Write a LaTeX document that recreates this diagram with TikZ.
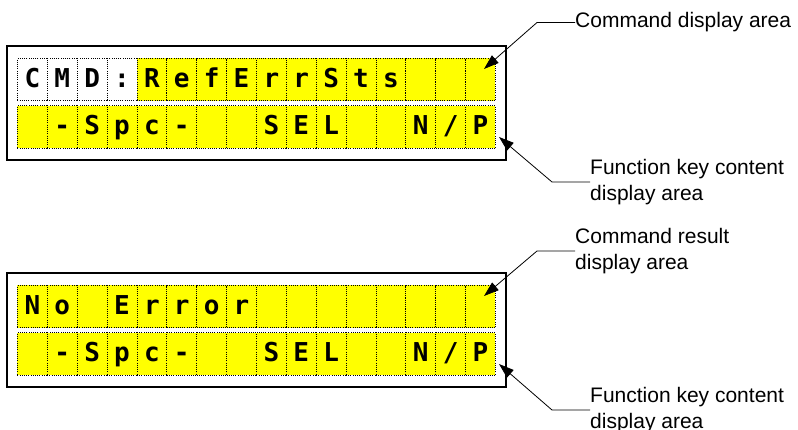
\documentclass[tikz,border=0pt]{standalone}
\usepackage{fontspec}
\setmainfont{Liberation Sans}
\newfontfamily\lcdfont{DejaVu Sans Mono}
\usetikzlibrary{arrows.meta}
\definecolor{lcd}{RGB}{255,255,0}

\begin{document}
\begin{tikzpicture}[x=1pt,y=-1pt,
  cell/.style={draw,line width=.8pt,dash pattern=on .9pt off 1.3pt,anchor=north west,inner sep=0pt,
    minimum width=29.875pt,minimum height=42.5pt,text height=29pt,text depth=13.5pt,
    font=\fontsize{26}{26}\selectfont\lcdfont\bfseries},
  panel/.style={draw,line width=1.6pt},
  callout/.style={anchor=west,inner sep=0pt,align=left,font=\fontsize{21}{26}\selectfont},
  leader/.style={draw,line width=.8pt,-{Triangle[length=15pt,width=10pt]}}]
\useasboundingbox (0,0) rectangle (798,430);

% upper screen: command entry
\draw[panel] (7,46) rectangle (506,160);
\foreach \s [count=\i from 0] in {C,M,D,:,R,e,f,E,r,r,S,t,s,{},{},{}} {
  \ifnum\i<4 \def\bg{white}\else\def\bg{lcd}\fi
  \node[cell,fill=\bg] (cmd\i) at (17+29.875*\i,58) {\s};
}
\foreach \s [count=\i from 0] in {{},-,S,p,c,-,{},{},S,E,L,{},{},N,/,P}
  \node[cell,fill=lcd] (fkey\i) at (17+29.875*\i,105.5) {\s};

% lower screen: command result
\draw[panel] (7,273) rectangle (506,387);
\foreach \s [count=\i from 0] in {N,o,{},E,r,r,o,r,{},{},{},{},{},{},{},{}}
  \node[cell,fill=lcd] (res\i) at (17+29.875*\i,285) {\s};
\foreach \s [count=\i from 0] in {{},-,S,p,c,-,{},{},S,E,L,{},{},N,/,P}
  \node[cell,fill=lcd] (rkey\i) at (17+29.875*\i,332.5) {\s};

% callouts
\node[callout] (cmdlab) at (575,22.5) {Command display area};
\coordinate (cmdtip) at (484,69);
\draw[leader] (cmdlab.west) -- ++(-38,0) -- (cmdtip);

\node[callout] (fklab) at (590,182) {Function key content\\display area};
\coordinate (fktip) at (499,137);
\draw[leader] (fklab.west) -- ++(-38,0) -- (fktip);

\node[callout] (reslab) at (575,251) {Command result\\display area};
\coordinate (restip) at (484,296);
\draw[leader] (reslab.west) -- ++(-38,0) -- (restip);

\node[callout] (rklab) at (590,410) {Function key content\\display area};
\coordinate (rktip) at (499,364);
\draw[leader] (rklab.west) -- ++(-38,0) -- (rktip);
\end{tikzpicture}
\end{document}
